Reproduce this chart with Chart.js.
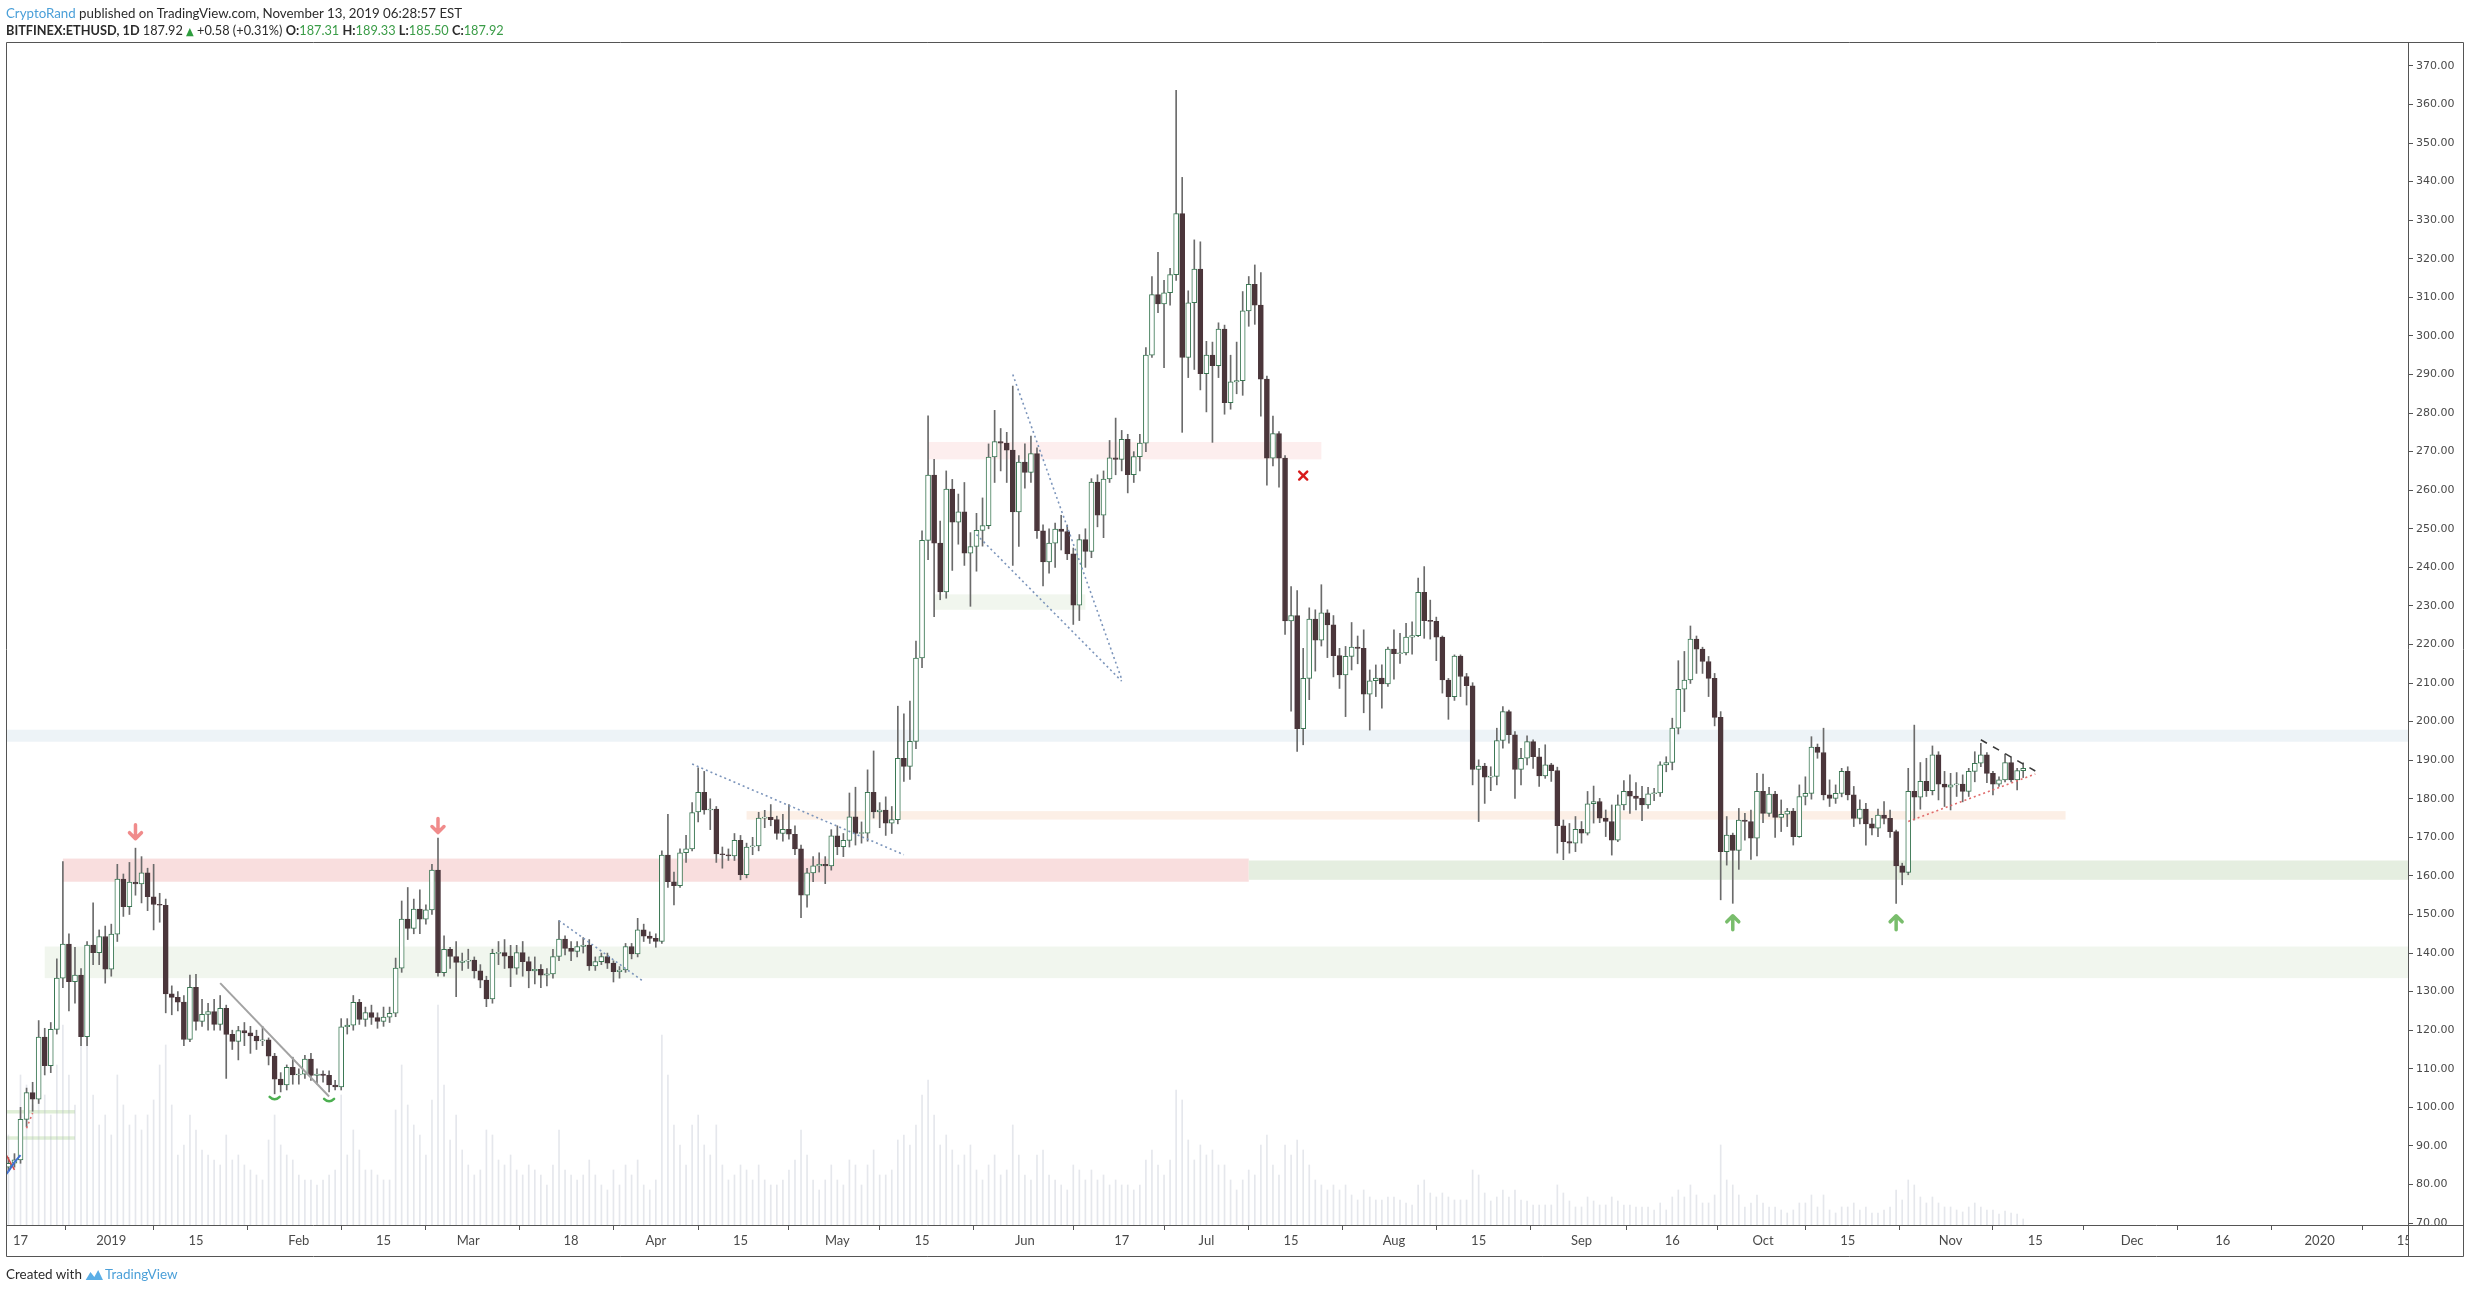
<!DOCTYPE html>
<html>
<head>
<meta charset="utf-8">
<title>BITFINEX:ETHUSD 1D</title>
<script src="https://cdn.jsdelivr.net/npm/chart.js@4.4.1/dist/chart.umd.min.js"></script>
<style>
  html, body { margin: 0; padding: 0; background: #fff; }
  body { width: 2468px; height: 1291px; position: relative; overflow: hidden;
         font-family: Lato, 'Liberation Sans', sans-serif; color: #2b2b2b; }
  #chart { position: absolute; left: 0; top: 0; }
  .line { position: absolute; left: 6px; font-size: 14px; line-height: 17px; white-space: nowrap; transform-origin: 0 50%; }
  .author, .brand { color: #4a9fd8; }
  .up { color: #3a9c47; }
  .tri { color: #2e9d3e; font-family: 'DejaVu Sans', sans-serif; font-size: 11px; }
  .logo { vertical-align: -3px; margin: 0 1px 0 3px; }
</style>
</head>
<body>
<canvas id="chart" width="2468" height="1291"></canvas>
<div class="line" style="top:4px; transform: scaleX(0.95)"><span class="author">CryptoRand</span> published on TradingView.com, November 13, 2019 06:28:57 EST</div>
<div class="line" style="top:21px; transform: scaleX(0.91)"><b>BITFINEX:ETHUSD, 1D</b> 187.92 <span class="tri">▲</span> +0.58 (+0.31%) <b>O:</b><span class="up">187.31</span> <b>H:</b><span class="up">189.33</span> <b>L:</b><span class="up">185.50</span> <b>C:</b><span class="up">187.92</span></div>
<div class="line" style="top:1265px; transform: scaleX(0.96)">Created with<svg class="logo" width="20" height="14" viewBox="0 0 20 14"><path d="M1 12 L6 4 L10 9 L14 2 L19 12 Z" fill="#5aaee6"/></svg><span class="brand">TradingView</span></div>
<script>
// daily candles [open, high, low, close], first candle 2018-12-15
const firstDay = '2018-12-15';

const dec2018 = [
  [84.5, 87.0, 83.5, 85.5], [85.5, 88.0, 84.5, 86.4], [86.4, 100.0, 85.5, 96.9], [96.9, 105.0, 95.0, 103.8],
  [103.8, 106.5, 99.0, 102.1], [102.1, 122.5, 101.0, 118.2], [118.2, 120.5, 108.4, 110.8], [110.8, 122.0, 109.0, 120.2],
  [120.2, 138.5, 119.0, 133.5], [133.5, 163.7, 131.0, 142.3], [142.3, 145.0, 125.0, 132.6], [132.6, 141.5, 127.0, 134.3],
  [134.3, 136.0, 116.0, 118.3], [118.3, 143.0, 116.0, 142.1], [142.1, 153.0, 137.0, 140.1], [140.1, 146.0, 137.0, 144.3],
  [144.3, 147.0, 132.2, 135.8]
];
const jan2019 = [
  [135.8, 147.5, 134.0, 144.9], [144.9, 163.0, 143.0, 159.2], [159.2, 160.5, 149.5, 152.0], [152.0, 163.5, 150.0, 158.4],
  [158.4, 167.2, 155.0, 157.9], [157.9, 165.0, 153.0, 160.8], [160.8, 162.0, 151.0, 154.6], [154.6, 163.0, 146.0, 152.6],
  [152.6, 155.5, 148.0, 152.4], [152.4, 154.0, 124.5, 129.4], [129.4, 131.5, 124.0, 128.5], [128.5, 130.0, 125.0, 127.3],
  [127.3, 129.0, 116.0, 117.6], [117.6, 134.3, 117.0, 131.1], [131.1, 134.5, 120.0, 122.3], [122.3, 128.0, 121.0, 124.1],
  [124.1, 127.0, 120.0, 124.8], [124.8, 128.0, 120.0, 121.5], [121.5, 129.0, 120.0, 125.7], [125.7, 126.5, 107.5, 118.9],
  [118.9, 120.0, 115.0, 117.1], [117.1, 121.0, 112.3, 119.9], [119.9, 122.0, 116.0, 119.3], [119.3, 121.0, 114.0, 118.5],
  [118.5, 120.0, 115.0, 117.2], [117.2, 121.0, 116.0, 117.5], [117.5, 118.0, 111.0, 113.3], [113.3, 114.0, 103.5, 107.3],
  [107.3, 109.0, 104.0, 105.8], [105.8, 111.0, 104.5, 110.4], [110.4, 113.0, 106.0, 108.4]
];
const feb2019 = [
  [108.4, 110.0, 106.0, 108.6], [108.6, 113.5, 107.5, 112.5], [112.5, 114.0, 107.0, 108.3], [108.3, 110.0, 106.0, 108.6],
  [108.6, 109.5, 106.5, 108.3], [108.3, 109.5, 104.0, 105.8], [105.8, 107.0, 104.5, 105.3], [105.3, 123.0, 104.5, 120.9],
  [120.9, 123.0, 119.0, 121.3], [121.3, 129.0, 120.0, 127.2], [127.2, 128.0, 121.5, 122.8], [122.8, 126.0, 121.0, 124.6],
  [124.6, 126.5, 121.5, 123.3], [123.3, 124.5, 120.5, 122.3], [122.3, 126.0, 121.0, 123.4], [123.4, 126.0, 122.0, 124.4],
  [124.4, 138.7, 123.5, 136.1], [136.1, 153.5, 135.0, 148.8], [148.8, 157.0, 143.5, 146.4], [146.4, 154.0, 145.0, 151.4],
  [151.4, 156.4, 145.0, 148.8], [148.8, 152.5, 147.5, 151.2], [151.2, 163.0, 150.0, 161.5], [161.5, 169.8, 134.0, 134.9],
  [134.9, 144.5, 134.0, 141.0], [141.0, 141.5, 136.0, 139.1], [139.1, 143.0, 128.7, 137.6], [137.6, 140.0, 135.5, 137.9]
];
const mar2019 = [
  [137.9, 141.0, 136.0, 138.2], [138.2, 139.0, 133.5, 135.4], [135.4, 137.0, 131.0, 133.0], [133.0, 134.0, 126.1, 128.1],
  [128.1, 141.0, 127.0, 139.9], [139.9, 143.0, 137.0, 140.1], [140.1, 143.5, 136.0, 139.2], [139.2, 142.0, 131.3, 136.1],
  [136.1, 142.0, 134.5, 140.1], [140.1, 143.0, 134.0, 137.8], [137.8, 139.0, 131.0, 135.4], [135.4, 139.0, 132.0, 135.8],
  [135.8, 137.0, 131.0, 134.3], [134.3, 136.0, 131.5, 134.6], [134.6, 141.0, 133.5, 139.1], [139.1, 148.4, 138.0, 143.6],
  [143.6, 144.5, 139.5, 141.2], [141.2, 143.0, 138.0, 140.4], [140.4, 143.0, 139.0, 141.7], [141.7, 144.0, 140.0, 142.1],
  [142.1, 143.5, 135.5, 136.7], [136.7, 139.0, 135.5, 137.8], [137.8, 140.0, 137.0, 139.1], [139.1, 140.0, 136.0, 137.4],
  [137.4, 138.0, 132.5, 135.2], [135.2, 136.5, 133.5, 135.6], [135.6, 142.5, 135.0, 141.7], [141.7, 142.5, 138.5, 139.8],
  [139.8, 149.0, 139.0, 146.0], [146.0, 147.5, 143.0, 144.4], [144.4, 145.5, 142.5, 143.8]
];
const apr2019 = [
  [143.8, 145.0, 141.5, 143.0], [143.0, 166.5, 142.5, 165.4], [165.4, 176.0, 157.0, 158.5], [158.5, 161.0, 152.5, 157.5],
  [157.5, 167.0, 157.0, 166.0], [166.0, 170.5, 163.5, 167.0], [167.0, 179.0, 166.5, 176.4], [176.6, 188.0, 174.0, 181.7],
  [181.7, 187.1, 176.0, 177.1], [177.1, 180.0, 172.0, 177.3], [177.3, 178.0, 163.5, 165.7], [165.7, 167.5, 162.0, 165.5],
  [165.5, 167.0, 164.0, 165.2], [165.2, 171.0, 164.0, 169.2], [169.2, 170.5, 159.0, 160.3], [160.3, 168.5, 159.5, 167.5],
  [167.5, 170.0, 165.5, 167.8], [167.8, 176.5, 166.5, 175.0], [175.0, 177.0, 172.5, 175.2], [175.2, 178.5, 173.0, 174.6],
  [174.6, 175.5, 169.5, 171.0], [171.0, 176.0, 169.0, 172.1], [172.1, 178.5, 169.5, 170.8], [170.8, 173.0, 165.5, 167.0],
  [167.0, 168.0, 149.2, 155.0], [155.0, 162.0, 151.9, 160.8], [160.8, 165.0, 158.5, 162.6], [162.6, 166.0, 161.0, 163.0],
  [163.0, 165.0, 158.0, 162.6], [162.6, 172.0, 161.5, 170.4]
];
const may2019 = [
  [170.4, 173.0, 165.5, 167.6], [167.6, 171.0, 165.0, 169.2], [169.2, 181.5, 167.5, 175.3], [175.3, 183.0, 168.0, 171.0],
  [171.0, 174.0, 168.5, 171.1], [171.1, 187.5, 169.0, 181.7], [181.7, 192.4, 175.0, 176.6], [176.6, 179.0, 172.5, 177.1],
  [177.1, 180.5, 170.5, 173.7], [173.7, 178.0, 171.0, 174.6], [174.6, 204.0, 173.5, 190.5], [190.5, 202.0, 184.5, 188.4],
  [188.4, 205.3, 185.0, 194.9], [194.9, 220.9, 193.0, 216.5], [216.5, 249.5, 214.0, 247.0], [247.0, 279.3, 242.0, 263.9],
  [263.9, 268.0, 227.2, 246.3], [246.3, 252.0, 231.6, 233.6], [233.6, 265.0, 232.0, 260.3], [260.3, 262.8, 239.2, 251.7],
  [251.7, 259.0, 246.0, 254.4], [254.4, 262.0, 240.5, 243.7], [243.7, 249.0, 229.9, 245.4], [245.4, 254.0, 239.0, 249.6],
  [249.6, 258.0, 245.5, 250.8], [250.8, 272.0, 250.0, 268.6], [268.6, 280.7, 262.0, 272.6], [272.6, 276.0, 265.0, 272.2],
  [272.2, 275.0, 262.0, 270.4], [270.4, 287.0, 240.5, 254.4], [254.4, 269.0, 245.4, 267.3]
];
const jun2019 = [
  [267.3, 272.0, 260.5, 264.6], [264.6, 274.0, 262.0, 269.5], [269.5, 271.0, 247.5, 249.5], [249.5, 251.0, 235.2, 241.4],
  [241.4, 250.0, 238.5, 246.3], [246.3, 251.5, 240.0, 249.9], [249.9, 253.5, 244.5, 249.3], [249.3, 251.0, 242.0, 243.5],
  [243.5, 245.0, 225.2, 230.2], [230.2, 248.5, 226.2, 247.2], [247.2, 250.0, 240.0, 244.1], [244.1, 263.0, 242.5, 262.1],
  [262.1, 264.0, 250.5, 253.5], [253.5, 265.0, 247.7, 262.9], [262.9, 272.9, 262.0, 268.4], [268.4, 278.7, 264.0, 268.0],
  [268.0, 275.5, 265.0, 273.2], [273.2, 274.5, 259.3, 264.0], [264.0, 270.0, 262.0, 268.7], [268.7, 274.5, 265.0, 272.2],
  [272.2, 297.0, 270.0, 295.0], [295.0, 315.4, 294.4, 310.7], [310.7, 321.7, 306.0, 308.3], [308.3, 314.4, 291.8, 311.2],
  [311.2, 317.5, 308.0, 315.9], [315.9, 363.7, 314.4, 331.7], [331.7, 341.1, 275.0, 294.4], [294.4, 311.7, 289.2, 308.6],
  [308.6, 324.9, 291.3, 317.3], [317.3, 324.4, 286.0, 290.2]
];
const jul2019 = [
  [290.2, 298.6, 280.3, 295.0], [295.0, 298.4, 272.4, 292.3], [292.3, 303.4, 289.2, 301.8], [301.8, 302.8, 279.7, 282.7],
  [282.7, 295.0, 281.0, 288.1], [288.1, 298.4, 285.0, 288.4], [288.4, 311.5, 284.6, 306.5], [306.5, 315.4, 302.5, 313.4],
  [313.4, 318.4, 303.0, 308.0], [308.0, 316.4, 279.2, 288.8], [288.8, 289.6, 261.3, 268.3], [268.3, 279.2, 266.3, 274.7],
  [274.7, 275.2, 260.8, 268.3], [268.3, 269.0, 222.6, 226.1], [226.1, 235.0, 202.7, 227.5], [227.5, 234.0, 192.3, 198.2],
  [198.2, 219.0, 194.0, 211.2], [211.2, 229.5, 205.7, 226.6], [226.6, 229.0, 213.1, 221.1], [221.1, 235.5, 219.6, 228.2],
  [228.2, 229.0, 216.6, 225.1], [225.1, 227.5, 211.6, 217.1], [217.1, 219.0, 208.6, 212.1], [212.1, 219.5, 201.3, 216.9],
  [216.9, 225.7, 213.4, 219.3], [219.3, 222.2, 215.0, 219.0], [219.0, 223.8, 202.3, 207.1], [207.1, 213.4, 197.8, 210.6],
  [210.6, 214.7, 206.5, 211.3], [211.3, 214.7, 203.5, 209.8], [209.8, 219.3, 209.1, 218.8]
];
const aug2019 = [
  [218.8, 223.8, 211.0, 217.6], [217.6, 222.9, 215.1, 217.8], [217.8, 225.5, 217.3, 221.9], [221.9, 225.9, 217.5, 222.3],
  [222.3, 237.2, 222.0, 233.5], [233.5, 240.2, 221.6, 226.2], [226.2, 231.5, 221.4, 226.0], [226.0, 227.1, 215.8, 221.9],
  [221.9, 222.2, 207.4, 210.8], [210.8, 211.2, 200.6, 206.5], [206.5, 217.3, 205.5, 217.0], [217.0, 217.3, 206.5, 211.7],
  [211.7, 212.5, 204.3, 209.3], [209.3, 210.1, 183.6, 187.6], [187.6, 190.1, 174.1, 188.5], [188.5, 189.2, 178.8, 185.6],
  [185.6, 188.3, 182.1, 185.8], [185.8, 198.3, 183.6, 195.1], [195.1, 203.9, 193.1, 202.6], [202.6, 203.0, 194.4, 196.6],
  [196.6, 197.4, 180.1, 187.6], [187.6, 193.1, 183.6, 190.5], [190.5, 196.3, 188.8, 194.8], [194.8, 195.3, 187.9, 190.9],
  [190.9, 193.1, 183.2, 185.9], [185.9, 194.0, 185.3, 188.8], [188.8, 189.2, 184.5, 187.3], [187.3, 188.2, 165.9, 173.0],
  [173.0, 174.5, 164.2, 168.9], [168.9, 173.6, 165.9, 168.5], [168.5, 175.4, 166.3, 172.1]
];
const sep2019 = [
  [172.1, 174.1, 168.5, 171.1], [171.1, 181.9, 170.6, 178.7], [178.7, 183.3, 173.7, 179.3], [179.3, 180.1, 173.8, 175.0],
  [175.0, 177.1, 170.2, 174.1], [174.1, 178.4, 165.4, 169.3], [169.3, 181.0, 168.9, 178.4], [178.4, 184.7, 177.1, 181.9],
  [181.9, 186.2, 176.2, 180.7], [180.7, 184.2, 177.1, 180.1], [180.1, 183.2, 174.3, 178.4], [178.4, 183.0, 177.5, 181.3],
  [181.3, 182.7, 179.5, 181.5], [181.5, 189.6, 180.6, 188.8], [188.8, 190.9, 187.0, 189.4], [189.4, 200.9, 187.5, 198.3],
  [198.3, 215.8, 196.8, 208.4], [208.4, 218.2, 202.6, 210.8], [210.8, 224.8, 209.9, 221.4], [221.4, 222.2, 212.5, 218.8],
  [218.8, 219.3, 212.5, 215.6], [215.6, 216.9, 206.5, 211.2], [211.2, 212.5, 198.9, 201.1], [201.1, 202.6, 153.8, 166.3],
  [166.3, 175.4, 162.8, 170.6], [170.6, 171.1, 152.9, 166.6], [166.6, 177.5, 161.7, 174.5], [174.5, 176.2, 169.3, 174.1],
  [174.1, 177.1, 164.3, 169.8], [169.8, 186.6, 165.2, 181.9]
];
const oct2019 = [
  [181.9, 186.4, 173.8, 176.2], [176.2, 183.0, 175.4, 181.2], [181.2, 181.9, 170.0, 175.2], [175.2, 179.7, 171.5, 176.0],
  [176.0, 177.5, 172.8, 176.8], [176.8, 177.5, 168.0, 170.2], [170.2, 183.6, 170.0, 180.6], [180.6, 185.7, 178.4, 181.4],
  [181.4, 196.1, 179.9, 193.4], [193.4, 194.2, 190.5, 192.0], [192.0, 198.3, 179.7, 181.0], [181.0, 184.9, 178.0, 180.1],
  [180.1, 183.6, 178.8, 181.4], [181.4, 187.9, 180.5, 187.1], [187.1, 188.3, 179.7, 181.0], [181.0, 183.2, 172.8, 174.9],
  [174.9, 179.7, 173.5, 177.3], [177.3, 178.8, 168.0, 173.5], [173.5, 174.9, 170.6, 172.4], [172.4, 177.3, 170.2, 175.8],
  [175.8, 179.3, 173.5, 174.9], [174.9, 177.1, 170.0, 171.5], [171.5, 171.9, 152.9, 162.6], [162.6, 163.3, 157.7, 160.9],
  [160.9, 187.9, 160.3, 181.9], [181.9, 199.1, 174.5, 180.4], [180.4, 189.4, 177.3, 184.5], [184.5, 190.5, 180.6, 182.1],
  [182.1, 193.7, 181.0, 191.4], [191.4, 192.2, 179.7, 183.8], [183.8, 187.1, 178.0, 183.0]
];
const nov2019 = [
  [183.0, 186.6, 177.1, 183.6], [183.6, 186.8, 180.6, 183.8], [183.8, 186.2, 179.2, 181.9], [181.9, 187.9, 180.6, 187.1],
  [187.1, 192.2, 184.4, 189.2], [189.2, 194.4, 188.3, 191.4], [191.4, 192.0, 184.2, 186.6], [186.6, 187.1, 181.0, 183.8],
  [183.8, 185.7, 183.2, 184.9], [184.9, 191.6, 184.4, 189.4], [189.4, 190.9, 184.4, 184.9], [184.9, 187.9, 182.3, 187.34],
  [187.31, 189.33, 185.50, 187.92]
];

// daily volume (relative units)
const volDec2018 = [90, 70, 150, 140, 120, 170, 130, 110, 160, 200, 150, 120, 180, 190, 130, 100, 110];
const volJan2019 = [90, 150, 120, 100, 110, 95, 110, 125, 160, 180, 120, 70, 80, 110, 95, 75, 70, 65, 60, 90, 65, 70, 60, 55, 50, 45, 85, 110, 80, 70, 65];
const volFeb2019 = [50, 45, 45, 40, 45, 50, 55, 130, 70, 95, 75, 55, 55, 50, 45, 45, 115, 160, 120, 100, 90, 70, 125, 220, 140, 85, 110, 75];
const volMar2019 = [60, 50, 55, 95, 90, 65, 60, 70, 55, 50, 60, 55, 50, 40, 60, 95, 55, 50, 45, 50, 65, 50, 40, 35, 55, 40, 60, 50, 65, 40, 35];
const volApr2019 = [45, 190, 150, 100, 80, 60, 100, 110, 80, 70, 100, 60, 45, 50, 60, 55, 45, 60, 45, 40, 40, 45, 55, 65, 95, 70, 45, 35, 45, 60];
const volMay2019 = [45, 40, 65, 60, 40, 60, 75, 50, 50, 55, 85, 90, 80, 100, 130, 145, 110, 80, 90, 75, 60, 70, 80, 55, 45, 60, 70, 50, 55, 100, 70];
const volJun2019 = [50, 45, 70, 75, 50, 45, 40, 35, 60, 55, 45, 55, 45, 50, 40, 45, 40, 40, 35, 40, 65, 75, 60, 50, 65, 135, 125, 85, 65, 80];
const volJul2019 = [70, 75, 60, 60, 45, 35, 45, 55, 50, 80, 90, 60, 50, 80, 70, 85, 75, 60, 45, 40, 35, 40, 35, 40, 30, 25, 35, 28, 25, 25, 28];
const volAug2019 = [28, 25, 22, 20, 40, 45, 32, 28, 32, 28, 25, 25, 25, 55, 50, 32, 24, 28, 35, 28, 35, 25, 24, 20, 20, 20, 20, 40, 32, 24, 18];
const volSep2019 = [18, 28, 24, 20, 20, 28, 24, 20, 20, 18, 18, 18, 15, 22, 15, 28, 35, 28, 40, 30, 22, 22, 30, 80, 45, 40, 30, 18, 22, 30];
const volOct2019 = [22, 18, 18, 15, 12, 15, 22, 22, 30, 18, 30, 15, 12, 18, 18, 22, 15, 18, 12, 12, 15, 18, 35, 25, 45, 40, 28, 22, 28, 22, 18];
const volNov2019 = [18, 15, 13, 18, 22, 18, 15, 15, 11, 14, 12, 11, 6];

const priceTicks = [70, 80, 90, 100, 110, 120, 130, 140, 150, 160, 170, 180, 190, 200, 210, 220,
  230, 240, 250, 260, 270, 280, 290, 300, 310, 320, 330, 340, 350, 360, 370];

const timeTicks = [
  ['2018-12-17', '17'], ['2019-01-01', '2019'], ['2019-01-15', '15'], ['2019-02-01', 'Feb'], ['2019-02-15', '15'],
  ['2019-03-01', 'Mar'], ['2019-03-18', '18'], ['2019-04-01', 'Apr'], ['2019-04-15', '15'], ['2019-05-01', 'May'],
  ['2019-05-15', '15'], ['2019-06-01', 'Jun'], ['2019-06-17', '17'], ['2019-07-01', 'Jul'], ['2019-07-15', '15'],
  ['2019-08-01', 'Aug'], ['2019-08-15', '15'], ['2019-09-01', 'Sep'], ['2019-09-16', '16'], ['2019-10-01', 'Oct'],
  ['2019-10-15', '15'], ['2019-11-01', 'Nov'], ['2019-11-15', '15'], ['2019-12-01', 'Dec'], ['2019-12-16', '16'],
  ['2020-01-01', '2020'], ['2020-01-15', '15']
];

// drawings on the chart, in date / price terms
const zones = [
  ['2018-12-14', '2020-01-17', 194.8, 197.9, 'blue'],
  ['2018-12-21', '2020-01-17', 133.5, 141.7, 'greenPale'],
  ['2018-12-24', '2019-07-08', 158.5, 164.5, 'red'],
  ['2019-07-08', '2020-01-17', 159.0, 164.0, 'green'],
  ['2019-05-16', '2019-07-20', 268.0, 272.5, 'pink'],
  ['2019-05-17', '2019-06-11', 229.0, 233.0, 'greenPale'],
  ['2019-04-16', '2019-11-20', 174.6, 176.8, 'orange'],
  ['2018-12-14', '2018-12-26', 98.4, 99.3, 'greenMark'],
  ['2018-12-14', '2018-12-26', 91.6, 92.5, 'greenMark']
];
const trendLines = [
  [['2019-01-19', 132.2], ['2019-02-06', 102.8], 'gray'],
  [['2019-03-16', 148.4], ['2019-03-30', 132.6], 'blueDot'],
  [['2019-04-07', 189.0], ['2019-05-12', 165.5], 'blueDot'],
  [['2019-05-30', 290.0], ['2019-06-17', 211.0], 'blueDot'],
  [['2019-05-24', 248.5], ['2019-06-17', 210.5], 'blueDot'],
  [['2019-10-25', 174.1], ['2019-11-15', 186.4], 'redDot'],
  [['2019-11-06', 195.3], ['2019-11-15', 187.2], 'blackDash'],
  [['2018-12-18', 94.6], ['2018-12-19', 98.5], 'redDot'],
  [['2018-12-14', 89.5], ['2018-12-16', 83.8], 'red'],
  [['2018-12-14', 81.5], ['2018-12-15', 83.4], 'blue'],
  [['2018-12-15', 83.4], ['2018-12-16', 85.8], 'blue'],
  [['2018-12-16', 85.8], ['2018-12-17', 87.6], 'blue']
];
const downArrows = [['2019-01-05', 171.2], ['2019-02-24', 172.8]];
const upArrows = [['2019-09-26', 148.1], ['2019-10-23', 148.1]];
const crosses = [['2019-07-17', 263.8]];
const lowMarks = [['2019-01-28', 102.2], ['2019-02-06', 101.7]];

// ---- build
function dayOf(s) {
  const [y, m, d] = s.split('-').map(Number);
  return (Date.UTC(y, m - 1, d) - Date.UTC(2019, 0, 1)) / 86400000;
}

const candles = [].concat(dec2018, jan2019, feb2019, mar2019, apr2019, may2019, jun2019,
  jul2019, aug2019, sep2019, oct2019, nov2019);
const volumes = [].concat(volDec2018, volJan2019, volFeb2019, volMar2019, volApr2019, volMay2019,
  volJun2019, volJul2019, volAug2019, volSep2019, volOct2019, volNov2019);
const start = dayOf(firstDay);

const upFill = '#ffffff', upLine = '#3a7753', downFill = '#4b363b';
const isUp = candles.map(c => c[3] >= c[0]);
const tickLabel = {};
timeTicks.forEach(t => { tickLabel[dayOf(t[0])] = t[1]; });

const zoneColors = {
  blue: '#edf3f7', greenPale: '#f1f6ee', red: '#f9dede', green: '#e5eee0',
  pink: '#fdeeee', orange: '#fcefe6', greenMark: '#dfeed6'
};
const lineStyles = {
  gray: { color: '#a3a3a3', width: 2, dash: [] },
  blueDot: { color: '#7c95bb', width: 1.6, dash: [2, 3] },
  redDot: { color: '#e06c6c', width: 1.6, dash: [2, 3] },
  blackDash: { color: '#3a3a3a', width: 1.5, dash: [7, 7] },
  red: { color: '#d84a4a', width: 1.5, dash: [] },
  blue: { color: '#3f6fd1', width: 2, dash: [] }
};

const drawings = {
  id: 'drawings',
  beforeDatasetsDraw(chart) {
    const { ctx, chartArea: a, scales: { x, y } } = chart;
    ctx.save();
    ctx.beginPath();
    ctx.rect(a.left, a.top, a.width, a.height);
    ctx.clip();
    zones.forEach(([from, to, lo, hi, kind]) => {
      const x1 = x.getPixelForValue(dayOf(from)), x2 = x.getPixelForValue(dayOf(to));
      const y1 = y.getPixelForValue(hi), y2 = y.getPixelForValue(lo);
      ctx.fillStyle = zoneColors[kind];
      ctx.fillRect(x1, y1, x2 - x1, y2 - y1);
    });
    ctx.restore();
  },
  afterDatasetsDraw(chart) {
    const { ctx, chartArea: a, scales: { x, y } } = chart;
    const px = p => [x.getPixelForValue(dayOf(p[0])), y.getPixelForValue(p[1])];
    ctx.save();
    ctx.beginPath();
    ctx.rect(a.left, a.top, a.width, a.height);
    ctx.clip();

    trendLines.forEach(([p1, p2, kind]) => {
      const st = lineStyles[kind];
      const [x1, y1] = px(p1), [x2, y2] = px(p2);
      ctx.strokeStyle = st.color;
      ctx.lineWidth = st.width;
      ctx.setLineDash(st.dash);
      ctx.beginPath();
      ctx.moveTo(x1, y1);
      ctx.lineTo(x2, y2);
      ctx.stroke();
    });
    ctx.setLineDash([]);
    ctx.lineCap = 'round';
    ctx.lineJoin = 'round';

    // arrows
    ctx.lineWidth = 3.5;
    ctx.strokeStyle = '#f08b8b';
    downArrows.forEach(p => {
      const [cx, cy] = px(p);
      ctx.beginPath();
      ctx.moveTo(cx, cy - 8); ctx.lineTo(cx, cy + 6);
      ctx.moveTo(cx - 6, cy); ctx.lineTo(cx, cy + 6); ctx.lineTo(cx + 6, cy);
      ctx.stroke();
    });
    ctx.strokeStyle = '#79bd6c';
    upArrows.forEach(p => {
      const [cx, cy] = px(p);
      ctx.beginPath();
      ctx.moveTo(cx, cy + 8); ctx.lineTo(cx, cy - 6);
      ctx.moveTo(cx - 6, cy); ctx.lineTo(cx, cy - 6); ctx.lineTo(cx + 6, cy);
      ctx.stroke();
    });

    // cross marker
    ctx.lineWidth = 2.5;
    ctx.strokeStyle = '#d81b1b';
    crosses.forEach(p => {
      const [cx, cy] = px(p);
      ctx.beginPath();
      ctx.moveTo(cx - 4, cy - 4); ctx.lineTo(cx + 4, cy + 4);
      ctx.moveTo(cx + 4, cy - 4); ctx.lineTo(cx - 4, cy + 4);
      ctx.stroke();
    });

    // small green marks under the two January/February lows
    ctx.lineWidth = 2.5;
    ctx.strokeStyle = '#4caf50';
    lowMarks.forEach(p => {
      const [cx, cy] = px(p);
      ctx.beginPath();
      ctx.moveTo(cx - 5, cy - 2);
      ctx.quadraticCurveTo(cx, cy + 3, cx + 5, cy - 2);
      ctx.stroke();
    });
    ctx.restore();
  },
  afterDraw(chart) {
    const { ctx, chartArea: a } = chart;
    const W = chart.width, H = chart.height;
    const left = a.left + 0.5, top = a.top + 0.5;
    const right = W - 5 + 0.5, bottom = H - 35 + 0.5;
    const axisX = Math.round(a.right) + 0.5, axisY = Math.round(a.bottom) + 0.5;
    ctx.save();
    // the time labels stop at the price axis, as in the original
    ctx.fillStyle = '#fff';
    ctx.fillRect(axisX, axisY + 1, right - axisX, bottom - axisY - 1);
    ctx.strokeStyle = '#555';
    ctx.lineWidth = 1;
    ctx.beginPath();
    ctx.rect(left, top, right - left, bottom - top);
    ctx.moveTo(left, axisY); ctx.lineTo(right, axisY);
    ctx.moveTo(axisX, top); ctx.lineTo(axisX, bottom);
    ctx.stroke();
    ctx.restore();
  }
};

new Chart(document.getElementById('chart'), {
  type: 'bar',
  data: {
    datasets: [{
      label: 'Volume',
      yAxisID: 'vol',
      data: volumes.map((v, i) => ({ x: start + i, y: v })),
      backgroundColor: 'rgba(175, 180, 196, 0.32)',
      barThickness: 1,
      grouped: false,
      order: 2
    }, {
      label: 'Wick',
      data: candles.map((c, i) => ({ x: start + i, y: [Math.min(c[2], c[0], c[3]), Math.max(c[1], c[0], c[3])] })),
      backgroundColor: '#6b6b6b',
      barThickness: 1,
      grouped: false,
      order: 1
    }, {
      label: 'BITFINEX:ETHUSD',
      data: candles.map((c, i) => ({ x: start + i, y: [c[0], c[3]] })),
      backgroundColor: isUp.map(u => u ? upFill : downFill),
      borderColor: isUp.map(u => u ? upLine : downFill),
      borderWidth: 1,
      borderSkipped: false,
      barThickness: 5,
      minBarLength: 1,
      grouped: false,
      order: 0
    }]
  },
  options: {
    responsive: false,
    animation: false,
    devicePixelRatio: 1,
    layout: { padding: { left: 6, top: 42, right: 5, bottom: 35 } },
    plugins: { legend: { display: false }, tooltip: { enabled: false } },
    scales: {
      x: {
        type: 'linear',
        min: -17.4,
        max: 379.6,
        offset: false,
        grid: { drawOnChartArea: false, tickLength: 5, color: '#555' },
        border: { display: false },
        afterBuildTicks: s => { s.ticks = timeTicks.map(t => ({ value: dayOf(t[0]) })); },
        afterFit: s => { s.height = 31; },
        ticks: {
          autoSkip: false, maxRotation: 0, padding: 3, color: '#4a4a4a',
          font: { family: "Lato, 'Liberation Sans', sans-serif", size: 13 },
          callback: v => tickLabel[v] || ''
        }
      },
      y: {
        position: 'right',
        min: 69.5,
        max: 376.2,
        grid: { drawOnChartArea: false, tickLength: 5, color: '#555' },
        border: { display: false },
        afterBuildTicks: s => { s.ticks = priceTicks.map(v => ({ value: v })); },
        afterFit: s => { s.width = 55; },
        ticks: {
          padding: 3, color: '#4a4a4a',
          font: { family: "'DejaVu Sans', sans-serif", size: 11 },
          callback: v => v.toFixed(2)
        }
      },
      vol: { display: false, min: 0, max: 1183 }
    }
  },
  plugins: [drawings]
});
</script>
</body>
</html>
